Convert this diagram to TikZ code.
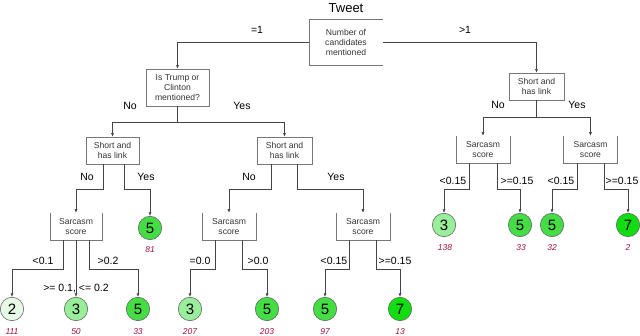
\documentclass[tikz,border=0pt]{standalone}
\usepackage{fontspec}
\setmainfont{Liberation Sans}
\usetikzlibrary{arrows.meta}
\definecolor{cTwo}{HTML}{E6FAE6}
\definecolor{cThree}{HTML}{99EE99}
\definecolor{cFive}{HTML}{44DD44}
\definecolor{cSeven}{HTML}{11DD11}
\definecolor{cntcol}{HTML}{A0103C}
\definecolor{lncol}{HTML}{444444}
\definecolor{bxcol}{HTML}{777777}
\begin{document}
\begin{tikzpicture}[x=1pt,y=-1pt,
 boxtext/.style={font=\fontsize{8.6}{10.2}\selectfont, text=black!80, align=center, inner sep=0pt, minimum height=27pt},
 fullbox/.style={boxtext, draw=bxcol, line width=0.6pt},
 openbox/.style={boxtext},
 leaf/.style={circle, draw=black!60, line width=0.6pt, minimum size=23.4pt, inner sep=0pt, font=\fontsize{15}{15}\selectfont},
 countlbl/.style={font=\fontsize{8.5}{9}\selectfont\itshape, text=cntcol},
 lbl/.style={font=\fontsize{10.5}{11}\selectfont, inner sep=0pt},
 conn/.style={draw=lncol, line width=0.6pt},
 arr/.style={conn, -{Latex[length=3.6pt,width=3pt]}}
]
\useasboundingbox (0,0) rectangle (640,336);

% title and root
\node[font=\fontsize{13}{13}\selectfont] (tweet) at (346,8) {Tweet};
\node[boxtext, minimum width=74pt, minimum height=45pt] (root) at (346,42.5) {Number of\\candidates\\mentioned};
\draw[draw=bxcol, line width=0.6pt] (root.north east) -- (root.north west) -- (root.south west) -- (root.south east);

% decision boxes
\node[fullbox, minimum width=63pt, minimum height=37pt] (trump) at (177.5,87.5) {Is Trump or\\Clinton\\mentioned?};
\node[fullbox, minimum width=53pt] (sl1) at (112.5,150.5) {Short and\\has link};
\node[fullbox, minimum width=55pt] (sl2) at (284.5,150.5) {Short and\\has link};
\node[fullbox, minimum width=55pt] (sl3) at (536.5,86.5) {Short and\\has link};

\node[openbox, minimum width=52pt] (sc1) at (76,226.5) {Sarcasm\\score};
\node[openbox, minimum width=54pt] (sc2) at (229,226.5) {Sarcasm\\score};
\node[openbox, minimum width=54pt] (sc3) at (363,226.5) {Sarcasm\\score};
\node[openbox, minimum width=54pt] (sc4) at (483,149.5) {Sarcasm\\score};
\node[openbox, minimum width=54pt] (sc5) at (590.5,149.5) {Sarcasm\\score};
\foreach \b in {sc1,sc2,sc3,sc4,sc5}
  \draw[draw=bxcol, line width=0.6pt] (\b.north west) -- (\b.south west) -- (\b.south east) -- (\b.north east);

% leaves
\node[leaf, fill=cTwo]   (l1)  at (12,309)  {2};
\node[leaf, fill=cThree] (l2)  at (76,309)  {3};
\node[leaf, fill=cFive]  (l3)  at (138,309) {5};
\node[leaf, fill=cFive]  (l4)  at (150,228) {5};
\node[leaf, fill=cThree] (l5)  at (190,309) {3};
\node[leaf, fill=cFive]  (l6)  at (267,309) {5};
\node[leaf, fill=cFive]  (l7)  at (325,309) {5};
\node[leaf, fill=cSeven] (l8)  at (400,309) {7};
\node[leaf, fill=cThree] (l9)  at (444,225) {3};
\node[leaf, fill=cFive]  (l10) at (520,225) {5};
\node[leaf, fill=cFive]  (l11) at (552,225) {5};
\node[leaf, fill=cSeven] (l12) at (628,225) {7};

% counts
\node[countlbl] (n1)  at (12,332)  {111};
\node[countlbl] (n2)  at (76,332)  {50};
\node[countlbl] (n3)  at (138,332) {33};
\node[countlbl] (n4)  at (150,250) {81};
\node[countlbl] (n5)  at (190,332) {207};
\node[countlbl] (n6)  at (267,332) {203};
\node[countlbl] (n7)  at (325,332) {97};
\node[countlbl] (n8)  at (400,332) {13};
\node[countlbl] (n9)  at (445,248) {138};
\node[countlbl] (n10) at (521,248) {33};
\node[countlbl] (n11) at (552,248) {32};
\node[countlbl] (n12) at (628,248) {2};

% connectors from root
\draw[arr] (root.west) -| (trump.north);
\draw[arr] (root.east) -| (sl3.north);
\node[lbl] (e1) at (257,30) {=1};
\node[lbl] (e2) at (465,30) {>1};

% trump split
\coordinate (j1) at (177.5,122);
\draw[conn] (trump.south) -- (j1);
\draw[arr] (j1) -| (sl1.north);
\draw[arr] (j1) -| (sl2.north);
\node[lbl] (e3) at (130,106) {No};
\node[lbl] (e4) at (242,106) {Yes};

% right short-and-link split
\coordinate (j2) at (536.5,117);
\draw[conn] (sl3.south) -- (j2);
\draw[arr] (j2) -| (sc4.north);
\draw[arr] (j2) -| (sc5.north);
\node[lbl] (e5) at (498,105) {No};
\node[lbl] (e6) at (577,105) {Yes};

% sl1 children
\draw[arr] ([xshift=-9pt]sl1.south) -- ++(0,25) -| (sc1.north);
\draw[arr] ([xshift=12pt]sl1.south) -- ++(0,25) -| (l4.north);
\node[lbl] (e7) at (87,177) {No};
\node[lbl] (e8) at (146,177) {Yes};

% sl2 children
\draw[arr] ([xshift=-13pt]sl2.south) -- ++(0,25) -| (sc2.north);
\draw[arr] ([xshift=13pt]sl2.south) -- ++(0,25) -| (sc3.north);
\node[lbl] (e9) at (249,177) {No};
\node[lbl] (e10) at (336,177) {Yes};

% sc1 children
\draw[arr] ([xshift=-13pt]sc1.south) -- ++(0,29) -| (l1.north);
\draw[arr] (sc1.south) -- (l2.north);
\draw[arr] ([xshift=13pt]sc1.south) -- ++(0,29) -| (l3.north);
\node[lbl] (e11) at (43,261) {<0.1};
\node[lbl] (e12) at (108,261) {>0.2};
\node[lbl] (e13) at (76,289) {>= 0.1, <= 0.2};

% sc2 children
\draw[arr] ([xshift=-14pt]sc2.south) -- ++(0,29) -| (l5.north);
\draw[arr] ([xshift=13pt]sc2.south) -- ++(0,29) -| (l6.north);
\node[lbl] (e14) at (200,261) {=0.0};
\node[lbl] (e15) at (258,261) {>0.0};

% sc3 children
\draw[arr] ([xshift=-14pt]sc3.south) -- ++(0,29) -| (l7.north);
\draw[arr] ([xshift=13pt]sc3.south) -- ++(0,29) -| (l8.north);
\node[lbl] (e16) at (334,261) {<0.15};
\node[lbl] (e17) at (395,261) {>=0.15};

% sc4 children
\draw[arr] ([xshift=-14pt]sc4.south) -- ++(0,26) -| (l9.north);
\draw[arr] ([xshift=14pt]sc4.south) -- ++(0,26) -| (l10.north);
\node[lbl] (e18) at (453,181) {<0.15};
\node[lbl] (e19) at (517,181) {>=0.15};

% sc5 children
\draw[arr] ([xshift=-13.5pt]sc5.south) -- ++(0,26) -| (l11.north);
\draw[arr] ([xshift=13.5pt]sc5.south) -- ++(0,26) -| (l12.north);
\node[lbl] (e20) at (561,181) {<0.15};
\node[lbl] (e21) at (622,181) {>=0.15};
\end{tikzpicture}
\end{document}
